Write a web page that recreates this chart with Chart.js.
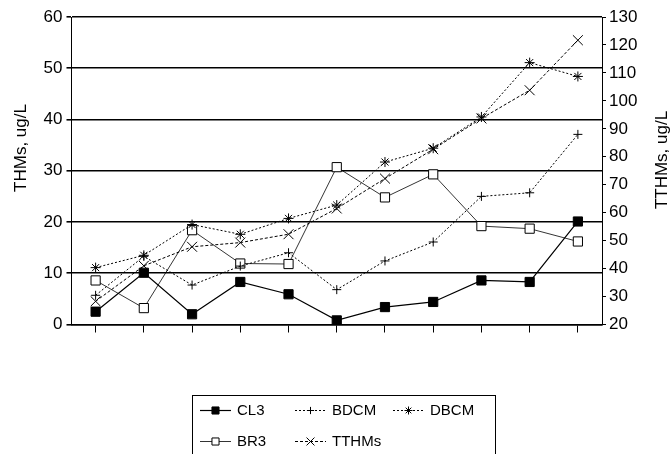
<!DOCTYPE html>
<html>
<head>
<meta charset="utf-8">
<script src="https://cdn.jsdelivr.net/npm/chart.js@4/dist/chart.umd.min.js"></script>
<style>
  html, body { margin: 0; padding: 0; background: #fff; }
  #wrap { width: 670px; height: 454px; }
</style>
</head>
<body>
<div id="wrap"><canvas id="thmChart" width="670" height="454"></canvas></div>
<script>
// sampling events (no labels on the original x axis)
const categories = ['1', '2', '3', '4', '5', '6', '7', '8', '9', '10', '11'];

// individual THMs, ug/L (left axis)
const cl3 = [2.5, 10.1, 2.0, 8.3, 5.9, 0.8, 3.4, 4.4, 8.6, 8.3, 20.1];
const br3 = [8.6, 3.2, 18.4, 11.9, 11.8, 30.7, 24.8, 29.3, 19.2, 18.7, 16.2];
const bdcm = [5.7, 13.3, 7.7, 11.4, 14.0, 6.8, 12.4, 16.1, 25.0, 25.7, 37.1];
const dbcm = [11.1, 13.5, 19.5, 17.6, 20.7, 23.3, 31.7, 34.4, 40.5, 51.1, 48.4];

// total THMs, ug/L (right axis)
const tthms = [28.3, 41.0, 47.8, 49.3, 52.3, 61.5, 72.2, 82.7, 93.7, 103.8, 121.7];

const leftTicks = { min: 0, max: 60, step: 10 };
const rightTicks = { min: 20, max: 130, step: 10 };

const FONT = '"Liberation Sans", Arial, sans-serif';

const series = [
    { label: 'CL3', data: cl3, axis: 'y', style: 'rect', radius: 6.5, fill: '#000', dash: [], width: 1.2 },
    { label: 'BDCM', data: bdcm, axis: 'y', style: 'cross', radius: 4.5, fill: '#000', dash: [2, 2], width: 1 },
    { label: 'DBCM', data: dbcm, axis: 'y', style: 'star', radius: 5, fill: '#000', dash: [2, 2], width: 1 },
    { label: 'BR3', data: br3, axis: 'y', style: 'rect', radius: 6.5, fill: '#fff', dash: [], width: 0.8 },
    { label: 'TTHMs', data: tthms, axis: 'y2', style: 'crossRot', radius: 7, fill: '#000', dash: [3, 2], width: 1 }
];

// legend slots (3 columns, 2 rows)
const legendSlots = [[200, 410], [295, 410], [393, 410], [200, 441], [295, 441]];

function drawMarker(ctx, s, x, y, r) {
    const opts = { pointStyle: s.style, radius: r, rotation: 0, borderWidth: 1 };
    ctx.save();
    ctx.fillStyle = s.fill;
    ctx.strokeStyle = '#000';
    ctx.lineWidth = 1;
    ctx.setLineDash([]);
    Chart.helpers.drawPoint(ctx, opts, x, y);
    ctx.restore();
}

const extrasPlugin = {
    id: 'extras',
    afterDraw(chart) {
        const ctx = chart.ctx;
        ctx.save();
        ctx.fillStyle = '#000';
        ctx.font = '17px ' + FONT;
        ctx.textAlign = 'center';
        ctx.textBaseline = 'middle';

        // axis titles, both reading bottom to top
        ctx.save();
        ctx.translate(21, 148);
        ctx.rotate(-Math.PI / 2);
        ctx.fillText('THMs, ug/L', 0, 0);
        ctx.restore();

        ctx.save();
        ctx.translate(662, 160);
        ctx.rotate(-Math.PI / 2);
        ctx.fillText('TTHMs, ug/L', 0, 0);
        ctx.restore();

        // legend box
        ctx.strokeStyle = '#000';
        ctx.lineWidth = 1;
        ctx.strokeRect(192.5, 395.5, 303, 80);

        ctx.font = '15px ' + FONT;
        ctx.textAlign = 'left';
        series.forEach((s, i) => {
            const [x, y] = legendSlots[i];
            ctx.save();
            ctx.strokeStyle = '#000';
            ctx.lineWidth = s.width;
            ctx.setLineDash(s.dash);
            ctx.beginPath();
            ctx.moveTo(x, y + 0.5);
            ctx.lineTo(x + 31, y + 0.5);
            ctx.stroke();
            ctx.restore();
            drawMarker(ctx, s, x + 15.5, y + 0.5, s.style === 'rect' ? 5 : s.radius * 0.8);
            ctx.fillStyle = '#000';
            ctx.fillText(s.label, x + 37, y + 1);
        });
        ctx.restore();
    }
};

const ctx = document.getElementById('thmChart').getContext('2d');
new Chart(ctx, {
    type: 'line',
    data: {
        labels: categories,
        datasets: series.map(s => ({
            label: s.label,
            data: s.data,
            yAxisID: s.axis,
            borderColor: '#000',
            borderWidth: s.width,
            borderDash: s.dash,
            pointStyle: s.style,
            pointRadius: s.radius,
            pointBackgroundColor: s.fill,
            pointBorderColor: '#000',
            pointBorderWidth: 1,
            tension: 0,
            fill: false
        }))
    },
    options: {
        responsive: false,
        animation: false,
        layout: { padding: { left: 21.5, right: 18, top: 17, bottom: 119.5 } },
        plugins: {
            legend: { display: false },
            tooltip: { enabled: false }
        },
        scales: {
            x: {
                offset: true,
                grid: { offset: false, drawOnChartArea: false, color: '#000', tickLength: 8, lineWidth: 1 },
                border: { color: '#000', width: 1.5 },
                ticks: { display: false },
                afterFit(scale) { scale.height = 10; }
            },
            y: {
                position: 'left',
                min: leftTicks.min,
                max: leftTicks.max,
                grid: { color: '#000', lineWidth: 1.6, tickLength: 5 },
                border: { color: '#000', width: 1 },
                ticks: { stepSize: leftTicks.step, color: '#000', padding: 4, font: { family: FONT, size: 17 } },
                afterFit(scale) { scale.width = 50; }
            },
            y2: {
                position: 'right',
                min: rightTicks.min,
                max: rightTicks.max,
                grid: { drawOnChartArea: false, color: '#000', tickLength: 4 },
                border: { color: '#000', width: 1 },
                ticks: { stepSize: rightTicks.step, color: '#000', padding: 3, font: { family: FONT, size: 17 } },
                afterFit(scale) { scale.width = 50; }
            }
        }
    },
    plugins: [extrasPlugin]
});
</script>
</body>
</html>
